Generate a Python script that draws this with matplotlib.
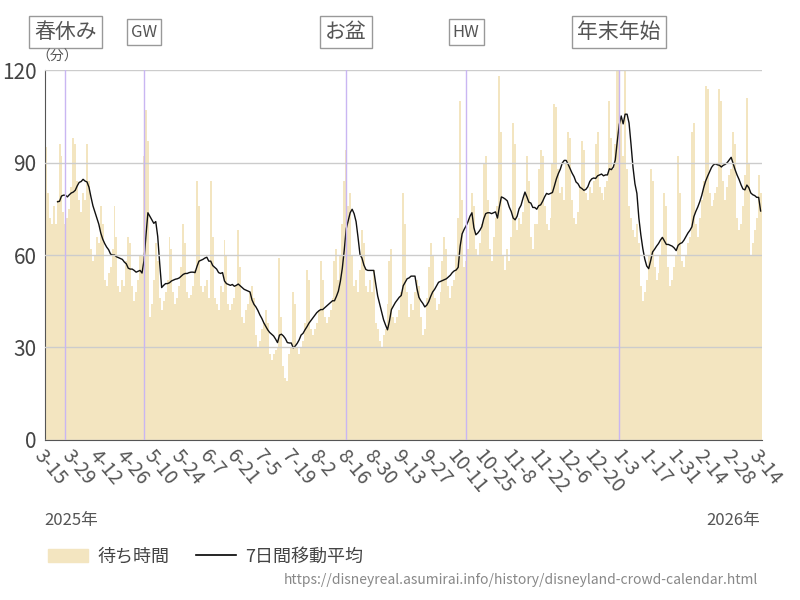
import matplotlib
matplotlib.use("Agg")
import matplotlib.pyplot as plt
import numpy as np
import pandas as pd
from matplotlib.patches import Patch
from matplotlib.lines import Line2D

plt.rcParams['font.family'] = ['Noto Sans CJK JP', 'DejaVu Sans']

start_date = "2025-03-15"
wait = [
 95, 80, 72, 70, 76, 70, 78,
 96, 92, 74, 70, 72, 75, 82,
 98, 96, 84, 78, 74, 80, 78,
 96, 84, 62, 58, 60, 66, 64,
 76, 70, 52, 50, 54, 56, 62,
 76, 66, 50, 48, 52, 50, 58,
 66, 64, 50, 45, 48, 52, 60,
 60, 92, 107, 97, 40, 44, 52,
 64, 58, 46, 42, 45, 48, 52,
 66, 62, 48, 44, 46, 50, 56,
 70, 64, 48, 46, 47, 50, 55,
 84, 76, 50, 48, 50, 52, 46,
 84, 66, 46, 44, 42, 50, 48,
 65, 60, 44, 42, 44, 46, 50,
 68, 56, 40, 38, 42, 44, 48,
 50, 46, 34, 30, 32, 36, 38,
 42, 38, 28, 26, 28, 29, 30,
 59, 40, 24, 20, 19, 28, 30,
 48, 44, 30, 28, 30, 32, 38,
 55, 52, 36, 34, 36, 38, 42,
 58, 52, 40, 38, 40, 42, 46,
 58, 62, 52, 60, 70, 84, 94,
 76, 80, 60, 50, 52, 48, 55,
 68, 64, 50, 48, 52, 48, 55,
 38, 36, 32, 30, 34, 36, 44,
 58, 62, 40, 38, 40, 42, 48,
 80, 70, 48, 40, 44, 42, 48,
 52, 50, 40, 34, 36, 46, 56,
 64, 60, 46, 42, 44, 48, 58,
 66, 62, 50, 46, 50, 52, 60,
 72, 110, 78, 56, 58, 62, 72,
 80, 76, 62, 60, 64, 70, 90,
 92, 78, 62, 58, 66, 72, 76,
 118, 100, 60, 55, 62, 58, 66,
 103, 96, 68, 72, 70, 74, 80,
 92, 84, 66, 62, 70, 70, 88,
 94, 92, 76, 70, 68, 72, 90,
 109, 108, 88, 80, 82, 78, 90,
 100, 98, 78, 72, 70, 74, 82,
 97, 94, 80, 78, 82, 80, 84,
 96, 100, 82, 80, 78, 82, 84,
 110, 98, 88, 96, 120, 120, 104,
 92, 120, 88, 76, 72, 68, 66,
 70, 64, 50, 45, 48, 52, 60,
 88, 84, 56, 52, 54, 60, 66,
 80, 76, 56, 50, 52, 56, 60,
 92, 80, 58, 56, 60, 64, 66,
 100, 103, 70, 66, 72, 78, 84,
 115, 114, 80, 76, 78, 80, 82,
 114, 110, 84, 78, 82, 86, 88,
 100, 96, 72, 68, 70, 76, 86,
 111, 90, 60, 64, 68, 72, 86,
 80,
]
events = ["春休み", "GW", "お盆", "HW", "年末年始"]
event_dates = ["2025-03-25", "2025-05-04", "2025-08-15", "2025-10-15", "2026-01-01"]
tick_labels = ["3-15", "3-29", "4-12", "4-26", "5-10", "5-24", "6-7", "6-21", "7-5", "7-19",
               "8-2", "8-16", "8-30", "9-13", "9-27", "10-11", "10-25", "11-8", "11-22",
               "12-6", "12-20", "1-3", "1-17", "1-31", "2-14", "2-28", "3-14"]

dates = pd.date_range(start_date, periods=len(wait), freq="D")
s = pd.Series(wait, index=dates)
ma = s.rolling(7).mean()
x = np.arange(len(wait))
t0 = pd.Timestamp(start_date)

fig = plt.figure(figsize=(8, 6), dpi=100)
ax = fig.add_axes([0.056, 0.267, 0.896, 0.616])
ax.bar(x, s.values, width=1.0, color="#f3e5c0", linewidth=0)
ax.plot(x, ma.values, color="#111111", lw=1.0)
ax.set_xlim(-0.5, len(wait) - 0.5)
ax.set_ylim(0, 120)
ax.set_yticks([0, 30, 60, 90, 120])
ax.yaxis.grid(True, color="#cccccc", lw=1)
ax.set_axisbelow(False)
for sp in ["top", "right"]:
    ax.spines[sp].set_visible(False)
ax.spines["left"].set_color("#555555")
ax.spines["bottom"].set_color("#555555")
ax.tick_params(axis="y", length=0, labelsize=15, colors="#444444", pad=6)
ax.tick_params(axis="x", length=0, labelsize=14, colors="#555555", pad=4)

tick_pos = []
for lab in tick_labels:
    m, d = map(int, lab.split("-"))
    yr = 2025 if m >= 3 and not (lab == "3-14") else 2026
    tick_pos.append((pd.Timestamp(year=yr, month=m, day=d) - t0).days)
ax.set_xticks(tick_pos)
ax.set_xticklabels(tick_labels, rotation=-50, ha="left", va="top", rotation_mode="anchor")

for name, ed in zip(events, event_dates):
    p = (pd.Timestamp(ed) - t0).days
    ax.axvline(p, color="#c9b6f2", lw=1, zorder=3)
    ax.text(p, 1.103, name, transform=ax.get_xaxis_transform(), ha="center", va="center",
            fontsize=12 if name in ("GW", "HW") else 15, color="#555555",
            bbox=dict(boxstyle="square,pad=0.25", fc="white", ec="#999999", lw=1))

fig.text(0.045, 0.905, "（分）", fontsize=10, color="#555555", va="center")
fig.text(0.056, 0.133, "2025年", fontsize=12, color="#555555", va="center")
fig.text(0.95, 0.133, "2026年", fontsize=12, color="#555555", va="center", ha="right")
handles = [Patch(color="#f3e5c0"), Line2D([], [], color="black", lw=1.2)]
fig.legend(handles, ["待ち時間", "7日間移動平均"], loc="center left", bbox_to_anchor=(0.04, 0.072),
           ncol=2, frameon=False, fontsize=13, labelcolor="#444444", handlelength=2.2,
           handletextpad=0.5, columnspacing=1.5)
fig.text(0.948, 0.033, "https://disneyreal.asumirai.info/history/disneyland-crowd-calendar.html",
         fontsize=10, color="#888888", ha="right", va="center")
fig.savefig("out.png", dpi=100, facecolor="white")
